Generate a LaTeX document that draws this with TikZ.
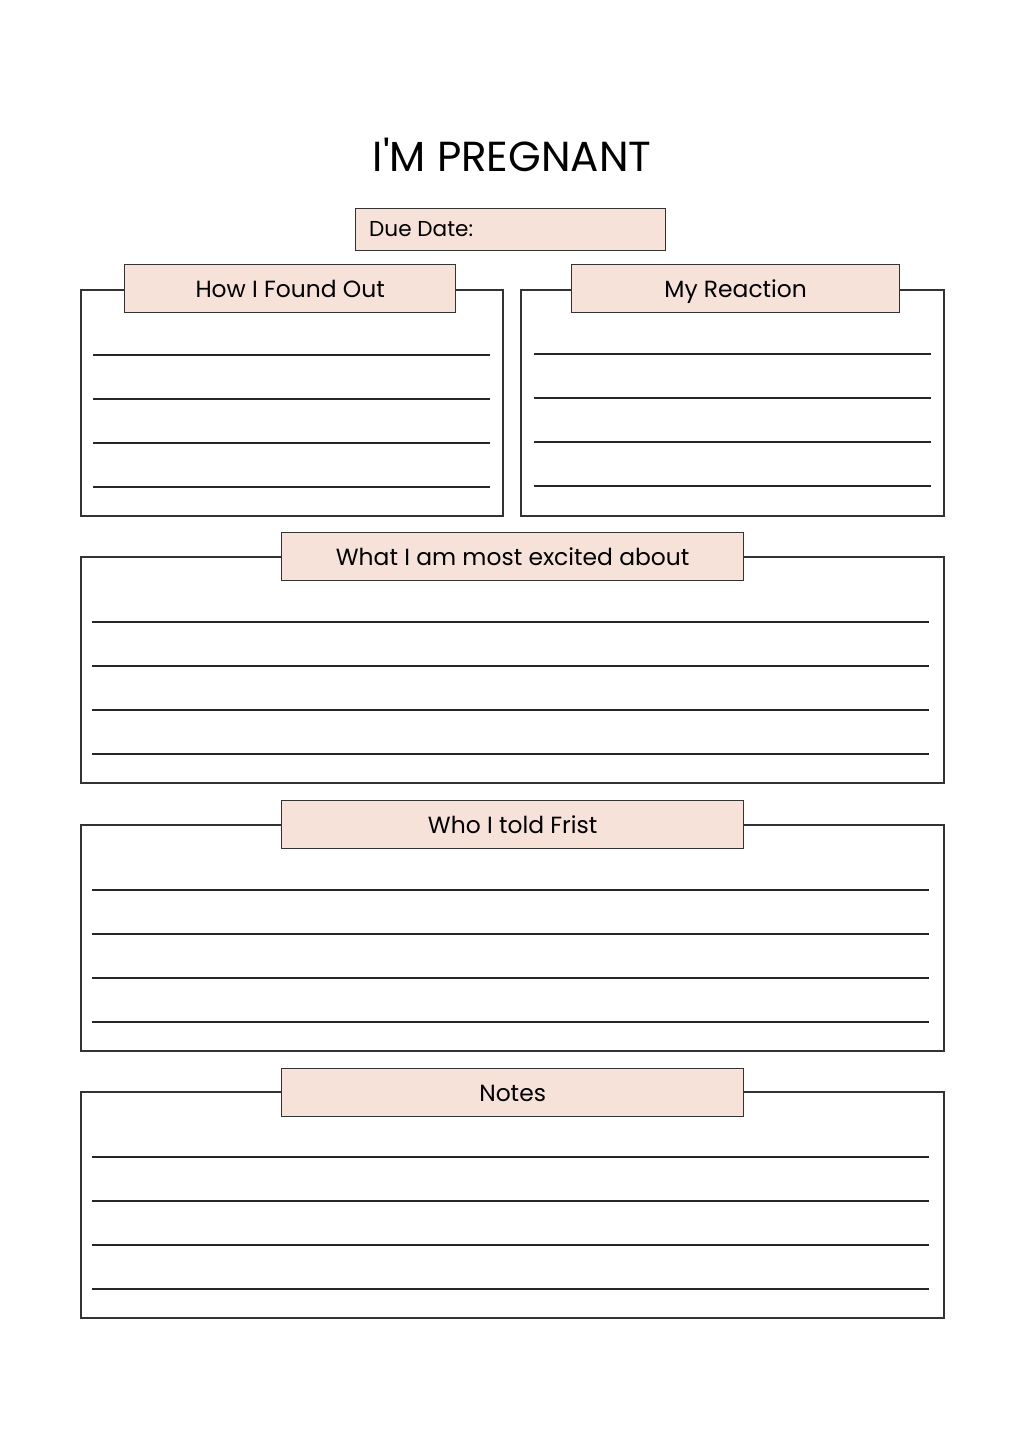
\documentclass[tikz,border=0pt]{standalone}
\usepackage{fontspec}
\setmainfont{Poppins}
\newfontfamily\titlefont{Poppins}
\definecolor{peach}{RGB}{247,226,217}
\definecolor{ink}{RGB}{51,51,51}
\tikzset{
  frame/.style={draw=ink, line width=1.3pt},
  labelbox/.style={draw=ink, line width=1.3pt, fill=peach, inner sep=0pt, anchor=north west,
     font=\fontsize{23.4}{28}\selectfont, text=black, text height=20pt, text depth=2pt},
  wline/.style={draw=black!85, line width=1.3pt},
}
\begin{document}
\begin{tikzpicture}[x=1pt,y=-1pt]
\useasboundingbox (0,0) rectangle (1024,1448);
\fill[white] (0,0) rectangle (1024,1448);

\node[font=\titlefont\fontsize{42}{50}\selectfont, anchor=base] (title) at (512,171) {I'M PREGNANT};

\node[draw=ink, line width=1.3pt, fill=peach, anchor=north west, minimum width=310pt, minimum height=42pt, inner sep=0pt] (dd) at (355,208) {};
\node[anchor=base west, font=\fontsize{21.6}{25}\selectfont, inner sep=0pt] (ddt) at (369,236) {Due Date:};

% top-left box
\draw[frame] (81,290) rectangle (503,516);
\node[labelbox, minimum width=331pt, minimum height=48pt] (l1) at (124,264) {How I Found Out};
\foreach \y in {355,399,443,487} \draw[wline] (93,\y) -- (490,\y);

% top-right box
\draw[frame] (521,290) rectangle (944,516);
\node[labelbox, minimum width=328pt, minimum height=48pt] (l2) at (571,264) {My Reaction};
\foreach \y in {354,398,442,486} \draw[wline] (534,\y) -- (931,\y);

% wide boxes
\foreach \top/\lab/\txt/\nm in {557/532/What I am most excited about/l3, 825/800/Who I told Frist/l4, 1092/1068/Notes/l5} {
  \draw[frame] (81,\top) rectangle (944,\top+226);
  \node[labelbox, minimum width=462pt, minimum height=48pt] (\nm) at (281,\lab) {\txt};
  \foreach \d in {65,109,153,197} \draw[wline] (92,\top+\d) -- (929,\top+\d);
}
\end{tikzpicture}
\end{document}
